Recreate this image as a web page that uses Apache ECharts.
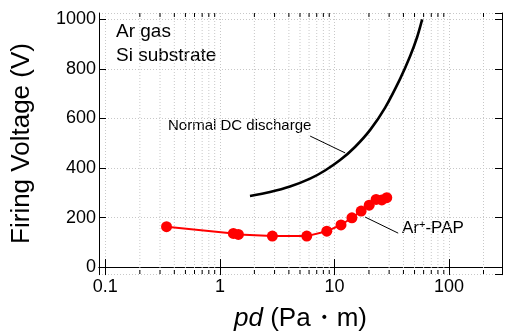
<!DOCTYPE html>
<html>
<head>
<meta charset="utf-8">
<script src="https://cdn.jsdelivr.net/npm/echarts@6/dist/echarts.min.js"></script>
<style>
  html, body { margin: 0; padding: 0; background: #fff; }
  #chart { width: 507px; height: 333px; }
</style>
</head>
<body>
<div id="chart"></div>
<script>
// Ar+-PAP firing voltage (red markers)
const papPd = [0.342, 1.31, 1.45, 2.87, 5.73, 8.57, 11.4, 14.2, 17.1, 20.1, 23.1, 25.9, 28.6];
const papV  = [163, 136, 132, 125, 125, 145, 170, 199, 226, 250, 273, 271, 280];

// normal DC discharge (black curve)
const dcPd = [1.83, 2.74, 4.09, 6.12, 8.27, 11.2, 15.1, 20.5, 27.7, 37.4, 45.8, 52.7, 58.3];
const dcV  = [287, 303, 325, 357, 390, 432, 485, 554, 644, 760, 852, 929, 1000];

// minor tick positions on the log axis
const minorTicks = [0.2, 0.3, 0.4, 0.5, 0.6, 0.7, 0.8, 0.9,
  2, 3, 4, 5, 6, 7, 8, 9, 20, 30, 40, 50, 60, 70, 80, 90, 200];

// leader lines for the annotations [pd, V]
const dcLeader = [[6.13, 529], [12.4, 461]];
const papLeader = [[18.5, 202], [36.0, 137]];

const X_MIN = 0.088, X_MAX = 290;
const Y_MIN = -28, Y_MAX = 1026;
const FONT = 'Liberation Sans, Arial, sans-serif';

const chart = echarts.init(document.getElementById('chart'));

const xBase = {
  type: 'log',
  logBase: 10,
  min: X_MIN,
  max: X_MAX,
  axisLine: { lineStyle: { color: '#000', width: 1 } },
  axisTick: { inside: true, length: 8, lineStyle: { color: '#000' } },
  splitLine: { show: false },
};
const yBase = {
  type: 'value',
  min: Y_MIN,
  max: Y_MAX,
  splitNumber: 5,
  axisLine: { show: true, lineStyle: { color: '#000', width: 1 } },
  axisTick: { inside: true, length: 7, lineStyle: { color: '#000' } },
};

const option = {
  animation: false,
  grid: { left: 99, right: 5, top: 13, bottom: 59, outerBoundsMode: 'none', containLabel: false },
  xAxis: [
    {
      ...xBase,
      position: 'bottom',
      name: '{i|pd} (Pa・m)',
      nameLocation: 'middle',
      nameGap: 32,
      nameTextStyle: {
        fontFamily: FONT, fontSize: 26, color: '#000',
        rich: { i: { fontFamily: FONT, fontSize: 26, fontStyle: 'italic', color: '#000' } },
      },
      axisLabel: {
        fontFamily: FONT, fontSize: 18, color: '#000', margin: 4,
        showMinLabel: false, showMaxLabel: false,
      },
      splitLine: { show: true, lineStyle: { color: '#c8c8c8', type: [1, 2] } },
    },
    { ...xBase, position: 'top', axisLabel: { show: false } },
  ],
  yAxis: [
    {
      ...yBase,
      position: 'left',
      name: 'Firing Voltage (V)',
      nameLocation: 'middle',
      nameGap: 64,
      nameTextStyle: { fontFamily: FONT, fontSize: 26, color: '#000' },
      axisLabel: {
        fontFamily: FONT, fontSize: 18, color: '#000', margin: 3,
        showMinLabel: false, showMaxLabel: false,
        formatter: (v) => String(v),
      },
      splitLine: { show: true, lineStyle: { color: '#c8c8c8', type: [1, 2] } },
    },
    { ...yBase, position: 'right', axisLabel: { show: false }, splitLine: { show: false } },
  ],
  series: [
    {
      type: 'custom',
      silent: true,
      z: 1,
      data: minorTicks.map((v) => [v, 0]),
      encode: { x: 0, y: 1 },
      renderItem: (params, api) => {
        const x = api.value(0);
        const b = api.coord([x, Y_MIN]);
        const t = api.coord([x, Y_MAX]);
        return {
          type: 'group',
          children: [
            { type: 'line', shape: { x1: b[0], y1: b[1], x2: t[0], y2: t[1] },
              style: { stroke: '#c8c8c8', lineWidth: 1, lineDash: [1, 2] } },
            { type: 'line', shape: { x1: b[0], y1: b[1], x2: b[0], y2: b[1] - 4 },
              style: { stroke: '#000', lineWidth: 1 } },
            { type: 'line', shape: { x1: t[0], y1: t[1], x2: t[0], y2: t[1] + 4 },
              style: { stroke: '#000', lineWidth: 1 } },
          ],
        };
      },
    },
    {
      name: 'Normal DC discharge',
      type: 'line',
      data: dcPd.map((x, i) => [x, dcV[i]]),
      smooth: 0.3,
      showSymbol: false,
      lineStyle: { color: '#000', width: 2.6 },
      z: 3,
      markLine: {
        silent: true,
        symbol: 'none',
        label: { show: false },
        lineStyle: { color: '#000', width: 1, type: 'solid' },
        data: [
          [{ coord: dcLeader[0] }, { coord: dcLeader[1] }],
          [{ coord: papLeader[0] }, { coord: papLeader[1] }],
        ],
      },
    },
    {
      name: 'Ar+-PAP',
      type: 'line',
      data: papPd.map((x, i) => [x, papV[i]]),
      symbol: 'circle',
      symbolSize: 11,
      itemStyle: { color: '#ff0000' },
      lineStyle: { color: '#ff0000', width: 2 },
      z: 4,
    },
  ],
  graphic: [
    { type: 'text', left: 116, top: 22,
      style: { text: 'Ar gas', fontFamily: FONT, fontSize: 19, fill: '#000' } },
    { type: 'text', left: 116, top: 46,
      style: { text: 'Si substrate', fontFamily: FONT, fontSize: 19, fill: '#000' } },
    { type: 'text', left: 168, top: 118,
      style: { text: 'Normal DC discharge', fontFamily: FONT, fontSize: 15, fill: '#000' } },
    { type: 'text', left: 402, top: 219,
      style: {
        text: 'Ar{s|+}-PAP', fontFamily: FONT, fontSize: 17, fill: '#000',
        rich: { s: { fontFamily: FONT, fontSize: 11, fill: '#000', verticalAlign: 'top', padding: [0, 0, 8, 0] } },
      } },
  ],
};

chart.setOption(option);
</script>
</body>
</html>
